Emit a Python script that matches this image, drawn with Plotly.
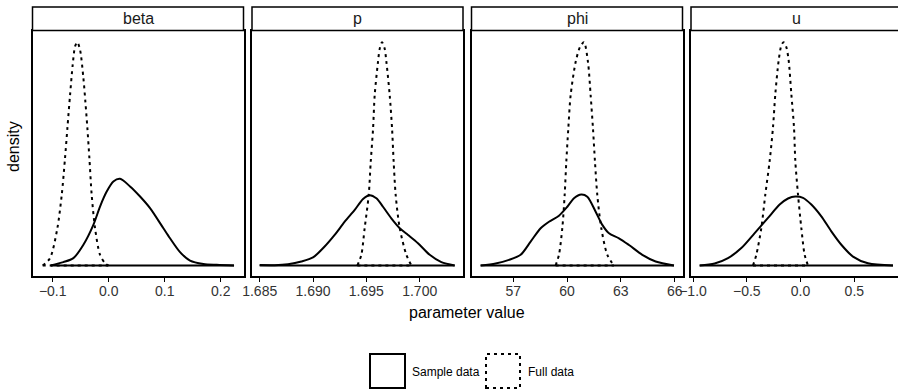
import plotly.graph_objects as go

W, H = 898, 391

# ---------------- data (density in relative units) ----------------
panel_names = ["beta", "p", "phi", "u"]

beta_sample_x = [-0.1036, -0.0810, -0.0631, -0.0452, -0.0274, -0.0155, -0.0036, 0.0083, 0.0202,
                 0.0381, 0.0560, 0.0738, 0.0976, 0.1095, 0.1274, 0.1452, 0.1690, 0.1929, 0.2238]
beta_sample_y = [0.0, 0.015, 0.033, 0.093, 0.182, 0.264, 0.331, 0.376, 0.388,
                 0.354, 0.309, 0.257, 0.167, 0.122, 0.060, 0.022, 0.007, 0.003, 0.0]
beta_full_x = [-0.1179, -0.1048, -0.0917, -0.0839, -0.0780, -0.0738, -0.0690, -0.0643, -0.0601, -0.0560,
               -0.0512, -0.0452, -0.0417, -0.0381, -0.0345, -0.0304, -0.0244, -0.0155, -0.0065, -0.0006]
beta_full_y = [0.0, 0.033, 0.167, 0.316, 0.481, 0.615, 0.764, 0.899, 0.981, 1.0,
               0.966, 0.839, 0.734, 0.615, 0.481, 0.316, 0.167, 0.048, 0.010, 0.0]

p_sample_x = [1.68500, 1.68641, 1.68766, 1.68891, 1.69000, 1.69109, 1.69203, 1.69297, 1.69391, 1.69469,
              1.69531, 1.69594, 1.69656, 1.69734, 1.69813, 1.69891, 1.69984, 1.70094, 1.70203, 1.70328]
p_sample_y = [0.002, 0.0015, 0.006, 0.018, 0.036, 0.085, 0.137, 0.196, 0.249, 0.298,
              0.315, 0.301, 0.263, 0.211, 0.167, 0.137, 0.100, 0.048, 0.015, 0.0]
p_full_x = [1.69416, 1.69453, 1.69484, 1.69522, 1.69541, 1.69563, 1.69578, 1.69609, 1.69625, 1.69647,
            1.69672, 1.69688, 1.69719, 1.69741, 1.69756, 1.69775, 1.69813, 1.69875, 1.69922]
p_full_y = [0.0, 0.048, 0.167, 0.315, 0.464, 0.613, 0.762, 0.911, 0.970, 1.0,
            0.970, 0.911, 0.762, 0.613, 0.464, 0.315, 0.167, 0.048, 0.0]

phi_sample_x = [55.178, 56.015, 56.758, 57.409, 57.967, 58.525, 58.990, 59.547, 60.012, 60.384,
                60.793, 61.128, 61.593, 61.965, 62.337, 62.894, 63.452, 64.196, 64.940, 65.962]
phi_sample_y = [0.0, 0.009, 0.025, 0.048, 0.107, 0.167, 0.196, 0.223, 0.263, 0.301,
                0.318, 0.308, 0.241, 0.182, 0.144, 0.122, 0.092, 0.048, 0.018, 0.0]
phi_full_x = [59.361, 59.547, 59.733, 59.864, 59.956, 60.068, 60.198, 60.477, 60.719, 60.942,
              61.165, 61.314, 61.444, 61.556, 61.686, 61.909, 62.244, 62.615]
phi_full_y = [0.0, 0.048, 0.167, 0.315, 0.464, 0.613, 0.762, 0.911, 0.978, 1.0,
              0.911, 0.762, 0.613, 0.464, 0.315, 0.167, 0.048, 0.0]

u_sample_x = [-0.9380, -0.7986, -0.6746, -0.5507, -0.4267, -0.3027, -0.1943, -0.1168, -0.0487,
              0.0226, 0.1001, 0.1931, 0.2860, 0.3790, 0.4874, 0.6269, 0.8593]
u_sample_y = [0.0, 0.009, 0.033, 0.078, 0.145, 0.213, 0.273, 0.300, 0.309,
              0.303, 0.273, 0.220, 0.153, 0.093, 0.040, 0.010, 0.0]
u_full_x = [-0.4422, -0.4112, -0.3647, -0.3276, -0.2873, -0.2563, -0.2346, -0.2036, -0.1788, -0.1571,
            -0.1323, -0.1106, -0.0858, -0.0610, -0.0487, -0.0239, 0.0071, 0.0381, 0.0691]
u_full_y = [0.0, 0.048, 0.168, 0.318, 0.468, 0.618, 0.768, 0.918, 0.985, 1.0,
            0.978, 0.918, 0.768, 0.618, 0.468, 0.318, 0.168, 0.048, 0.0]

tick_vals = {
    "beta": [-0.1, 0.0, 0.1, 0.2],
    "p": [1.685, 1.690, 1.695, 1.700],
    "phi": [57, 60, 63, 66],
    "u": [-1.0, -0.5, 0.0, 0.5],
}
tick_text = {
    "beta": ["\u22120.1", "0.0", "0.1", "0.2"],
    "p": ["1.685", "1.690", "1.695", "1.700"],
    "phi": ["57", "60", "63", "66"],
    "u": ["\u22121.0", "\u22120.5", "0.0", "0.5"],
}
series_names = ["Sample data", "Full data"]

data = {
    "beta": ((beta_sample_x, beta_sample_y), (beta_full_x, beta_full_y)),
    "p": ((p_sample_x, p_sample_y), (p_full_x, p_full_y)),
    "phi": ((phi_sample_x, phi_sample_y), (phi_full_x, phi_full_y)),
    "u": ((u_sample_x, u_sample_y), (u_full_x, u_full_y)),
}

# ---------------- layout geometry (pixels) ----------------
PANEL_W = 211.0
panel_px = [(32.5, 243.5), (252.0, 463.0), (471.5, 682.5), (691.0, 898.0)]
strip_right = [243.5, 463.0, 682.5, 904.0]   # last panel runs off the right edge
x_ranges = [(-0.1361, 0.2407), (1.68428, 1.70406), (54.669, 66.437), (-1.0186, 0.9059)]
plot_top, plot_bot = 31.0, 276.0
strip_top, strip_bot = 7.0, 30.5

def px(x):
    return x / W

def py(y):
    return 1 - y / H

FONT = "Liberation Sans, Arial, Helvetica, sans-serif"
LINE_W = 2.0
DOT = "3px,4px"

fig = go.Figure()
layout = dict(
    template="none",
    width=W, height=H, autosize=False,
    margin=dict(l=0, r=0, t=0, b=0, pad=0),
    paper_bgcolor="white", plot_bgcolor="white",
    showlegend=False,
    font=dict(family=FONT, color="black"),
    shapes=[], annotations=[],
)

for i, name in enumerate(panel_names):
    sfx = "" if i == 0 else str(i + 1)
    xa, ya = "x" + sfx, "y" + sfx
    (sx, sy), (fx, fy) = data[name]
    # solid curve + its baseline
    fig.add_trace(go.Scatter(x=sx, y=sy, mode="lines", xaxis=xa, yaxis=ya,
                             line=dict(color="black", width=LINE_W, shape="spline", smoothing=0.8),
                             name=series_names[0], hoverinfo="skip"))
    fig.add_trace(go.Scatter(x=[sx[0], sx[-1]], y=[0, 0], mode="lines", xaxis=xa, yaxis=ya,
                             line=dict(color="black", width=LINE_W), hoverinfo="skip"))
    # dotted curve + its baseline
    fig.add_trace(go.Scatter(x=fx, y=fy, mode="lines", xaxis=xa, yaxis=ya,
                             line=dict(color="black", width=LINE_W, dash=DOT, shape="spline", smoothing=0.8),
                             name=series_names[1], hoverinfo="skip"))
    fig.add_trace(go.Scatter(x=[fx[0], fx[-1]], y=[0, 0], mode="lines", xaxis=xa, yaxis=ya,
                             line=dict(color="black", width=LINE_W, dash=DOT), hoverinfo="skip"))

    x0, x1 = panel_px[i]
    last = (i == len(panel_names) - 1)
    layout["xaxis" + sfx] = dict(
        domain=[px(x0), px(x1)], range=list(x_ranges[i]), anchor=ya, automargin=False,
        showgrid=False, zeroline=False,
        showline=True, linecolor="black", linewidth=1.5, mirror=True,
        ticks="outside", ticklen=4, tickwidth=1.2, tickcolor="black",
        ticklabelstandoff=-3,
        tickmode="array", tickvals=tick_vals[name], ticktext=tick_text[name],
        tickfont=dict(size=14, color="#333333", family=FONT),
    )
    layout["yaxis" + sfx] = dict(
        domain=[py(plot_bot), py(plot_top)], range=[-0.047, 1.05], anchor=xa, automargin=False,
        showgrid=False, zeroline=False, showticklabels=False, ticks="",
        showline=True, linecolor="black", linewidth=1.5, mirror=(not last),
    )
    # strip
    layout["shapes"].append(dict(type="rect", xref="paper", yref="paper",
                                 x0=px(x0), x1=px(strip_right[i]), y0=py(strip_bot), y1=py(strip_top),
                                 line=dict(color="black", width=1.5), fillcolor="white"))
    layout["annotations"].append(dict(text=name, xref="paper", yref="paper",
                                      x=px(x0 + PANEL_W / 2), y=py((strip_top + strip_bot) / 2),
                                      showarrow=False, xanchor="center", yanchor="middle",
                                      font=dict(size=16, color="#1a1a1a", family=FONT)))

# axis titles
layout["annotations"].append(dict(text="parameter value", xref="paper", yref="paper",
                                  x=px(467), y=py(312), showarrow=False,
                                  xanchor="center", yanchor="middle",
                                  font=dict(size=16, color="black", family=FONT)))
layout["annotations"].append(dict(text="density", xref="paper", yref="paper",
                                  x=px(14), y=py(147), showarrow=False, textangle=-90,
                                  xanchor="center", yanchor="middle",
                                  font=dict(size=16, color="black", family=FONT)))

# legend (keys drawn as boxes, like ggplot density keys)
key_boxes = [(370, 405), (486, 520)]
key_dash = ["solid", DOT]
key_label_x = [410, 526]
for k in range(2):
    kx0, kx1 = key_boxes[k]
    layout["shapes"].append(dict(type="rect", xref="paper", yref="paper",
                                 x0=px(kx0), x1=px(kx1), y0=py(388), y1=py(354),
                                 line=dict(color="black", width=2, dash=key_dash[k]),
                                 fillcolor="white"))
    layout["annotations"].append(dict(text=series_names[k], xref="paper", yref="paper",
                                      x=px(key_label_x[k]), y=py(372), showarrow=False,
                                      xanchor="left", yanchor="middle",
                                      font=dict(size=12, color="black", family=FONT)))

fig.update_layout(**layout)
fig.write_html("out.html")
